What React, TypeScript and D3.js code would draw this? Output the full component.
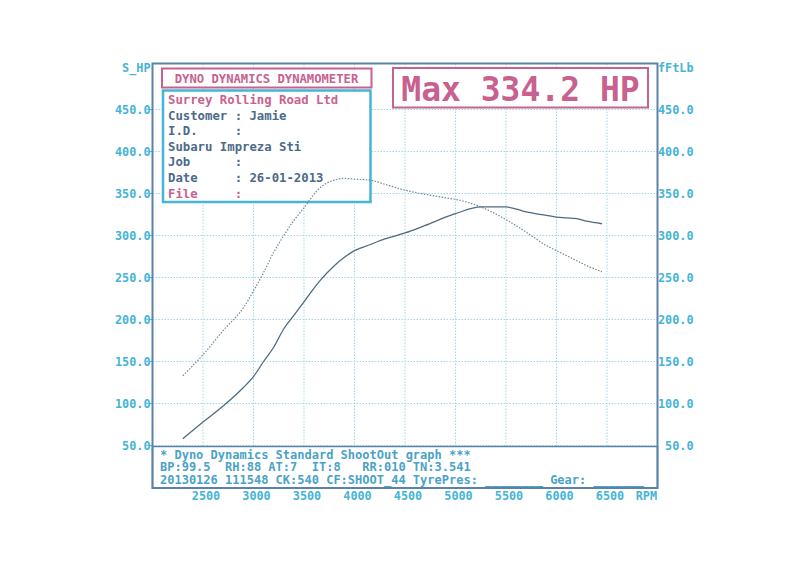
import React from "react";
import * as d3 from "d3";

const RPM = [2300, 2500, 2700, 2900, 3000, 3100, 3200, 3300, 3400, 3500, 3650, 3800, 3900, 4000, 4150, 4300, 4500, 4700, 4950, 5000, 5250, 5500, 5700, 5900, 6000, 6100, 6200, 6300, 6450];
const POWER = [58, 78, 97, 119, 132, 150, 167, 189, 205, 221, 245, 264, 274, 282, 289, 296, 303, 312, 324, 326, 334, 334, 328, 324, 322, 321, 320, 317, 314];
const TORQUE = [133, 158, 187, 214, 234, 256, 280, 300, 318, 333, 356, 366, 368, 367, 366, 361, 354, 349, 344, 343, 334, 319, 304, 288, 282, 276, 270, 264, 257];

const Y_TICKS = [50, 100, 150, 200, 250, 300, 350, 400, 450];
const X_TICKS = [2500, 3000, 3500, 4000, 4500, 5000, 5500, 6000, 6500];

const TITLE = "DYNO DYNAMICS DYNAMOMETER";
const MAX_LABEL = "Max 334.2 HP";
const HEADER_LINES = [
  "Surrey Rolling Road Ltd",
  "Customer : Jamie",
  "I.D.     :",
  "Subaru Impreza Sti",
  "Job      :",
  "Date     : 26-01-2013",
  "File     :",
];
const FOOTER_LINES = [
  "* Dyno Dynamics Standard ShootOut graph ***",
  "BP:99.5  RH:88 AT:7  IT:8   RR:010 TN:3.541",
  "20130126 111548 CK:540 CF:SHOOT_44 TyrePres: ________ Gear: _______",
];

const FONT = "'DejaVu Sans Mono', monospace";
const CYAN = "#45b4d6";
const PINK = "#c8618f";
const FRAME = "#5d82aa";
const GRID = "#9fd8e8";
const TEXT_DARK = "#4c6a8a";

export default function App() {
  const x = d3.scaleLinear().domain([2000, 7000]).range([152.5, 657.5]);
  const y = d3.scaleLinear().domain([0, 500]).range([487.5, 67.5]);
  const idx = RPM.map((_, i) => i);
  const powerLine = d3.line<number>().x((i) => x(RPM[i])).y((i) => y(POWER[i])).curve(d3.curveMonotoneX);
  const torqueLine = d3.line<number>().x((i) => x(RPM[i])).y((i) => y(TORQUE[i])).curve(d3.curveMonotoneX);

  const frameTop = 63.5;
  const frameBottom = 488;
  const footTop = 446.5;

  return (
    <div style={{ position: "fixed", left: 0, top: 0 }}>
      <svg width={799} height={569} style={{ display: "block", background: "#ffffff" }}>
        {/* grid */}
        {Y_TICKS.map((t) => (
          <line key={"gy" + t} x1={x(2000)} x2={x(7000)} y1={y(t)} y2={y(t)} stroke={GRID} strokeWidth={1} strokeDasharray="1.5 1.5" />
        ))}
        {X_TICKS.map((t) => (
          <line key={"gx" + t} x1={x(t)} x2={x(t)} y1={frameTop} y2={footTop} stroke={GRID} strokeWidth={1} strokeDasharray="1.5 1.5" />
        ))}
        {/* left tick labels */}
        {Y_TICKS.map((t) => (
          <g key={"ly" + t}>
            <line x1={150} x2={153} y1={y(t)} y2={y(t)} stroke={CYAN} strokeWidth={1} />
            <text x={150.5} y={y(t) + 4} textAnchor="end" fontFamily={FONT} fontSize={11.8} fontWeight="bold" fill={CYAN}>
              {t.toFixed(1)}
            </text>
          </g>
        ))}
        {Y_TICKS.map((t) => (
          <text key={"ry" + t} x={658} y={y(t) + 4} textAnchor="start" fontFamily={FONT} fontSize={11.8} fontWeight="bold" fill={CYAN}>
            {(t < 100 ? "\u00a0" : "") + t.toFixed(1)}
          </text>
        ))}
        <text x={150.5} y={72} textAnchor="end" fontFamily={FONT} fontSize={11.8} fontWeight="bold" fill={CYAN}>S_HP</text>
        <text x={658} y={72} textAnchor="start" fontFamily={FONT} fontSize={11.8} fontWeight="bold" fill={CYAN}>fFtLb</text>
        {/* x tick labels */}
        {X_TICKS.map((t) => (
          <text key={"lx" + t} x={x(t) + 3} y={500} textAnchor="middle" fontFamily={FONT} fontSize={11.8} fontWeight="bold" fill={CYAN}>
            {t}
          </text>
        ))}
        <text x={657} y={500} textAnchor="end" fontFamily={FONT} fontSize={11.8} fontWeight="bold" fill={CYAN}>RPM</text>

        {/* header boxes */}
        <rect x={162} y={68.5} width={209.5} height={19} fill="#fff" stroke={PINK} strokeWidth={2} />
        <text x={266.5} y={82.5} textAnchor="middle" fontFamily={FONT} fontSize={12.2} fontWeight="bold" fill={PINK}>{TITLE}</text>
        <rect x={163} y={90.5} width={207.5} height={111.5} fill="#fff" stroke={CYAN} strokeWidth={2.5} />
        {HEADER_LINES.map((l, i) => (
          <text key={"h" + i} x={168} y={104 + i * 15.6} fontFamily={FONT} fontSize={12.3} fontWeight="bold" fill={i === 0 || i === HEADER_LINES.length - 1 ? PINK : TEXT_DARK} style={{ whiteSpace: "pre" }}>
            {l}
          </text>
        ))}

        <rect x={393} y={68} width={255} height={39.5} fill="#fff" stroke={PINK} strokeWidth={2} />
        <text x={520.5} y={101} textAnchor="middle" fontFamily={FONT} fontSize={33} fontWeight="bold" fill={PINK}>{MAX_LABEL}</text>

        {/* footer box */}
        <rect x={152.5} y={footTop} width={505} height={frameBottom - footTop} fill="#fff" stroke={FRAME} strokeWidth={1.5} />
        {FOOTER_LINES.map((l, i) => (
          <text key={"f" + i} x={160} y={458.5 + i * 12.5} fontFamily={FONT} fontSize={12} fontWeight="bold" fill="#4aa3c6" style={{ whiteSpace: "pre" }}>
            {l}
          </text>
        ))}

        {/* curves */}
        <path d={torqueLine(idx) || ""} fill="none" stroke="#6d889c" strokeWidth={1.2} strokeDasharray="1.5 1.5" />
        <path d={powerLine(idx) || ""} fill="none" stroke="#4f6b82" strokeWidth={1.3} />

        {/* frame */}
        <rect x={152.5} y={frameTop} width={505} height={frameBottom - frameTop} fill="none" stroke={FRAME} strokeWidth={2} />
      </svg>
    </div>
  );
}
